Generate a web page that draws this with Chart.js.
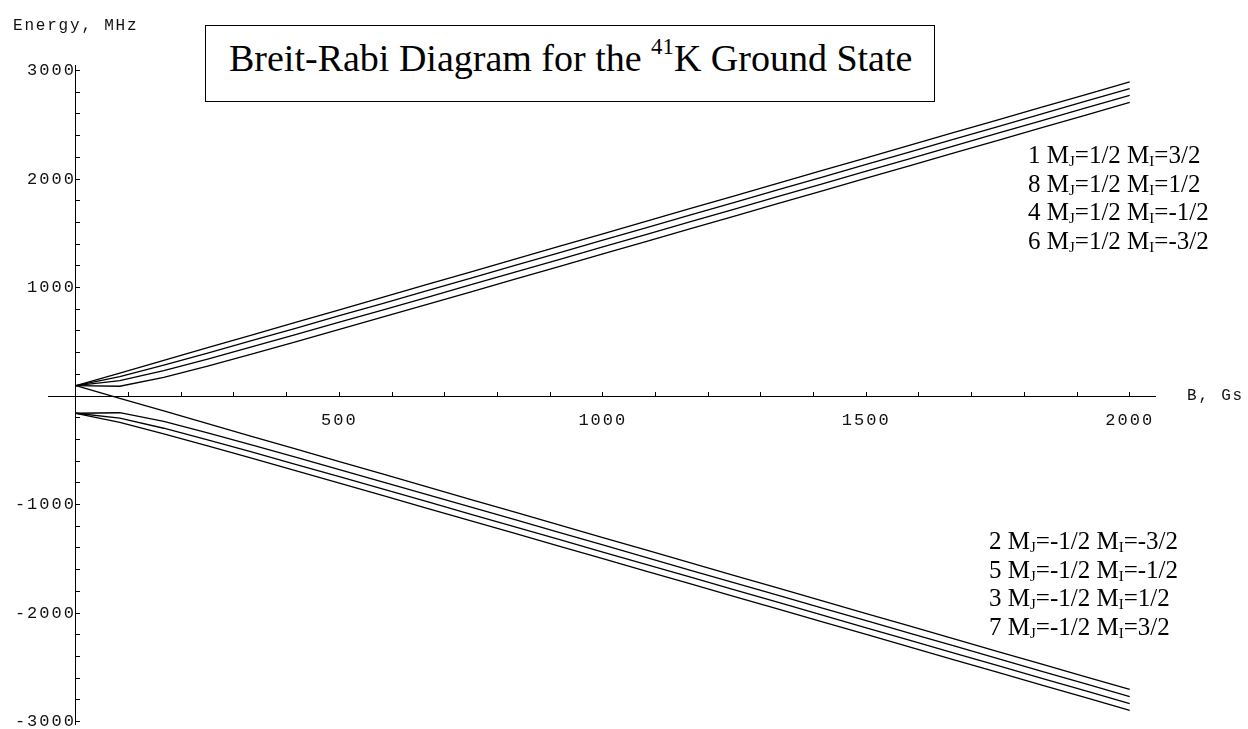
<!DOCTYPE html>
<html>
<head>
<meta charset="utf-8">
<script src="https://cdn.jsdelivr.net/npm/chart.js@4.4.1/dist/chart.umd.min.js"></script>
<style>
  html, body { margin: 0; padding: 0; background: #fff; }
  #wrap { position: relative; width: 1248px; height: 729px; }
  #chart { position: absolute; left: 0; top: 0; }
  .mono { position: absolute; font-family: "Liberation Mono", monospace; font-size: 16px; letter-spacing: 1.8px; line-height: 16px; color: #111; white-space: nowrap; }
  #titlebox { position: absolute; left: 205px; top: 25px; width: 730px; height: 77px; border: 1px solid #000; box-sizing: border-box; background: #fff; }
  #titlebox span.t { position: absolute; left: 23px; top: 12px; font-family: "Liberation Serif", serif; font-size: 38px; line-height: 40px; white-space: nowrap; color: #000; }
  sup { font-size: 0.6em; vertical-align: 0.75em; line-height: 0; }
  .legend { position: absolute; font-family: "Liberation Serif", serif; font-size: 25px; line-height: 28.6px; color: #000; white-space: nowrap; }
  .legend sub { font-size: 0.6em; vertical-align: -0.2em; line-height: 0; }
</style>
</head>
<body>
<div id="wrap">
  <canvas id="chart" width="1248" height="729"></canvas>
  <div class="mono" style="left:13px; top:18px;">Energy, MHz</div>
  <div class="mono" style="left:1187px; top:388px;">B, Gs</div>
  <div id="titlebox"><span class="t">Breit-Rabi Diagram for the <sup>41</sup>K Ground State</span></div>
  <div class="legend" style="left:1028px; top:141px;">
    1 M<sub>J</sub>=1/2 M<sub>I</sub>=3/2<br>
    8 M<sub>J</sub>=1/2 M<sub>I</sub>=1/2<br>
    4 M<sub>J</sub>=1/2 M<sub>I</sub>=-1/2<br>
    6 M<sub>J</sub>=1/2 M<sub>I</sub>=-3/2
  </div>
  <div class="legend" style="left:989px; top:527px;">
    2 M<sub>J</sub>=-1/2 M<sub>I</sub>=-3/2<br>
    5 M<sub>J</sub>=-1/2 M<sub>I</sub>=-1/2<br>
    3 M<sub>J</sub>=-1/2 M<sub>I</sub>=1/2<br>
    7 M<sub>J</sub>=-1/2 M<sub>I</sub>=3/2
  </div>
</div>
<script>
// magnetic field, Gs
const field = [0, 83.3, 166.7, 250, 333.3, 416.7, 500, 583.3, 666.7, 750, 833.3, 916.7, 1000,
  1083.3, 1166.7, 1250, 1333.3, 1416.7, 1500, 1583.3, 1666.7, 1750, 1833.3, 1916.7, 2000];

// energies, MHz
const level1 = [95, 212, 329, 445, 562, 679, 795, 912, 1029, 1145, 1262, 1379, 1495,
  1612, 1729, 1845, 1962, 2079, 2195, 2312, 2429, 2545, 2662, 2779, 2895];
const level8 = [95, 179, 285, 396, 510, 624, 740, 855, 971, 1087, 1203, 1320, 1436,
  1552, 1669, 1785, 1902, 2018, 2135, 2251, 2368, 2484, 2601, 2717, 2834];
const level4 = [95, 141, 234, 341, 452, 565, 680, 795, 910, 1026, 1142, 1258, 1374,
  1490, 1607, 1723, 1839, 1956, 2072, 2189, 2305, 2422, 2538, 2655, 2771];
const level6 = [95, 90, 171, 275, 386, 500, 614, 730, 845, 961, 1077, 1193, 1309,
  1426, 1542, 1658, 1775, 1891, 2008, 2124, 2241, 2357, 2474, 2590, 2707];
const level2 = [95, -21, -138, -255, -371, -488, -605, -721, -838, -955, -1071, -1188, -1305,
  -1421, -1538, -1655, -1771, -1888, -2005, -2121, -2238, -2355, -2471, -2588, -2705];
const level5 = [-159, -154, -234, -339, -450, -563, -678, -793, -909, -1024, -1140, -1257, -1373,
  -1489, -1606, -1722, -1838, -1955, -2071, -2188, -2304, -2421, -2537, -2654, -2771];
const level3 = [-159, -204, -297, -404, -515, -629, -743, -858, -974, -1090, -1205, -1321, -1438,
  -1554, -1670, -1786, -1903, -2019, -2136, -2252, -2369, -2485, -2602, -2718, -2835];
const level7 = [-159, -243, -348, -460, -573, -688, -803, -919, -1035, -1151, -1267, -1383, -1499,
  -1616, -1732, -1849, -1965, -2082, -2198, -2315, -2431, -2548, -2664, -2781, -2897];

const levels = [level1, level8, level4, level6, level2, level5, level3, level7];

// tick marks; only the round ones get a label
const xTicks = [100, 200, 300, 400, 500, 600, 700, 800, 900, 1000, 1100, 1200, 1300, 1400,
  1500, 1600, 1700, 1800, 1900, 2000];
const xLabels = [500, 1000, 1500, 2000];
const yTicks = [-3000, -2800, -2600, -2400, -2200, -2000, -1800, -1600, -1400, -1200, -1000,
  -800, -600, -400, -200, 200, 400, 600, 800, 1000, 1200, 1400, 1600, 1800, 2000,
  2200, 2400, 2600, 2800, 3000];
const yLabels = [-3000, -2000, -1000, 1000, 2000, 3000];

const monoSpacing = {
  id: 'monoSpacing',
  beforeDraw(chart) { chart.ctx.letterSpacing = '2px'; },
  afterDraw(chart) { chart.ctx.letterSpacing = '0px'; }
};

const tickFont = { family: 'Liberation Mono', size: 17 };
const noPad = s => { s.paddingTop = 0; s.paddingBottom = 0; s.paddingLeft = 0; s.paddingRight = 0; };

const ctx = document.getElementById('chart').getContext('2d');
new Chart(ctx, {
  type: 'line',
  data: {
    datasets: levels.map(lv => ({
      data: field.map((b, i) => ({ x: b, y: lv[i] })),
      borderColor: '#000',
      borderWidth: 1.3,
      pointRadius: 0,
      tension: 0,
      fill: false
    }))
  },
  options: {
    responsive: false,
    animation: false,
    events: [],
    layout: { padding: { left: 48, right: 93, top: 65, bottom: 5 } },
    plugins: { legend: { display: false }, tooltip: { enabled: false } },
    scales: {
      x: {
        type: 'linear',
        position: { y: 0 },
        min: -53,
        max: 2048,
        afterBuildTicks: s => { s.ticks = xTicks.map(v => ({ value: v })); },
        afterFit: noPad,
        border: { display: true, color: '#000', width: 1 },
        grid: { drawOnChartArea: false, drawTicks: true, tickLength: -5, color: '#000' },
        ticks: {
          autoSkip: false,
          maxRotation: 0,
          padding: 19,
          color: '#111',
          font: tickFont,
          callback: v => xLabels.includes(v) ? String(v) : ''
        }
      },
      y: {
        type: 'linear',
        position: { x: 0 },
        min: -3023,
        max: 3051,
        afterBuildTicks: s => { s.ticks = yTicks.map(v => ({ value: v })); },
        afterFit: noPad,
        border: { display: true, color: '#000', width: 1 },
        grid: { drawOnChartArea: false, drawTicks: true, tickLength: -5, color: '#000' },
        ticks: {
          autoSkip: false,
          color: '#111',
          font: tickFont,
          callback: v => yLabels.includes(v) ? String(v) : ''
        }
      }
    }
  },
  plugins: [monoSpacing]
});
</script>
</body>
</html>
